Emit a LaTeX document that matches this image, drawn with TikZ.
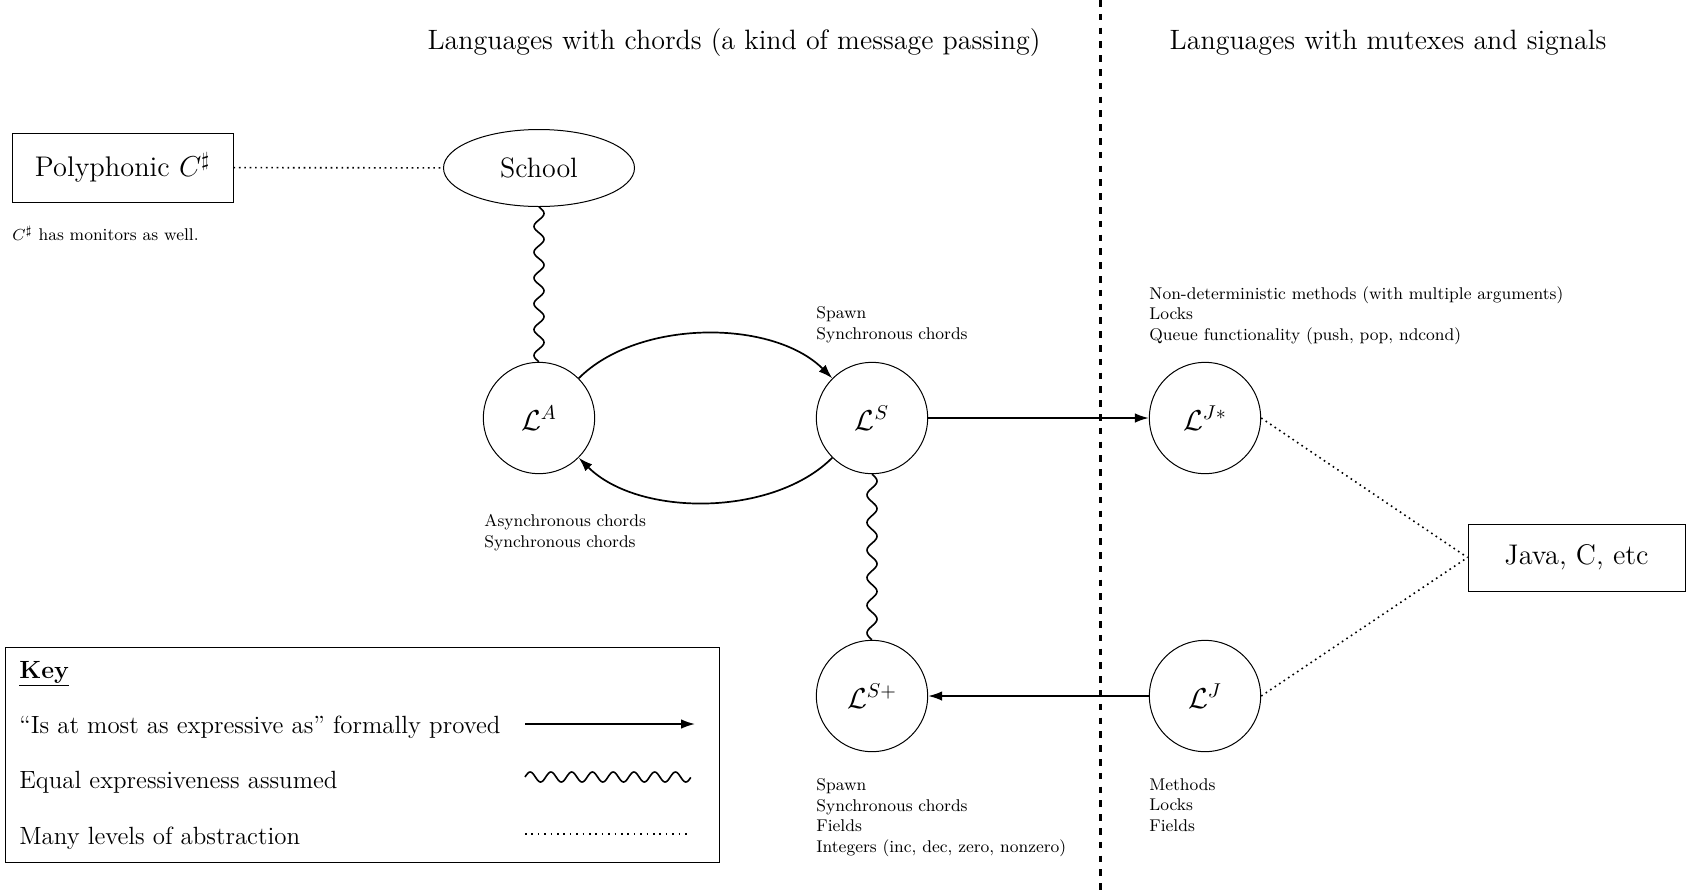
\documentclass[tikz,border=0pt]{standalone}
\usetikzlibrary{arrows.meta,calc,shapes.geometric}
\begin{document}
\begin{tikzpicture}[x=0.5pt,y=0.5pt,
  circ/.style={circle,draw,line width=0.5pt,minimum size=55.7pt,inner sep=0pt,font=\fontsize{14}{17}\selectfont},
  bigbox/.style={draw,line width=0.5pt,inner sep=0pt,font=\fontsize{14.2}{17}\selectfont},
  note/.style={align=left,anchor=north west,inner sep=0pt,font=\fontsize{8.5}{10.35}\selectfont},
  keytext/.style={anchor=west,inner sep=0pt,font=\fontsize{12.45}{15}\selectfont},
  title/.style={inner sep=0pt,font=\fontsize{14}{17}\selectfont},
  arr/.style={line width=0.85pt,-{Latex[length=7pt,width=4.8pt]}},
  wavy/.style={line width=0.8pt,line join=round},
  dots/.style={line width=0.8pt,dash pattern=on 0.8pt off 1.9pt},
  keydots/.style={line width=0.8pt,dash pattern=on 0.8pt off 2.4pt},
  divider/.style={line width=1.5pt,dash pattern=on 3.3pt off 3.6pt}]
\useasboundingbox (0,0) rectangle (1686,-890);

% titles
\node[title] (t1) at (734,-43) {Languages with chords (a kind of message passing)};
\node[title] (t2) at (1388,-43) {Languages with mutexes and signals};

% divider
\coordinate (dtop) at (1100,0);
\coordinate (dbot) at (1100,-890);
\draw[divider] (dtop) -- (dbot);

% nodes
\node[bigbox,minimum width=110.5pt,minimum height=34.5pt] (poly) at (122.5,-167.5) {Polyphonic $C^\sharp$};
\node[ellipse,draw,line width=0.5pt,minimum width=95.5pt,minimum height=38.5pt,inner sep=0pt,font=\fontsize{14}{17}\selectfont] (school) at (539,-168) {School};
\node[circ] (LA) at (539,-418) {$\mathcal{L}^A$};
\node[circ] (LS) at (872,-418) {$\mathcal{L}^S$};
\node[circ] (LJs) at (1205,-418) {$\mathcal{L}^{J*}$};
\node[circ] (LSp) at (872,-696) {$\mathcal{L}^{S+}$};
\node[circ] (LJ) at (1205,-696) {$\mathcal{L}^J$};
\node[bigbox,minimum width=108.5pt,minimum height=33.5pt] (java) at (1576.5,-557.5) {Java, C, etc};

% notes
\node[note] (npoly) at (12,-226) {$C^\sharp$ has monitors as well.};
\node[note] (nLS) at (816,-306) {Spawn\\Synchronous chords};
\node[note] (nLA) at (484,-514) {Asynchronous chords\\Synchronous chords};
\node[note] (nLJs) at (1149,-286) {Non-deterministic methods (with multiple arguments)\\Locks\\Queue functionality (push, pop, ndcond)};
\node[note] (nLSp) at (816,-778) {Spawn\\Synchronous chords\\Fields\\Integers (inc, dec, zero, nonzero)};
\node[note] (nLJ) at (1149,-778) {Methods\\Locks\\Fields};

% connectors
\draw[dots] (poly) -- (school);
\draw[wavy] let \p1=(school.south), \p2=(LA.north) in
  plot[variable=\t,domain=0:1,samples=121,smooth] ({\x1+2.5pt*sin(6*360*\t)},{\y1+(\y2-\y1)*\t});
\draw[wavy] let \p1=(LS.south), \p2=(LSp.north) in
  plot[variable=\t,domain=0:1,samples=121,smooth] ({\x1+2.5pt*sin(6*360*\t)},{\y1+(\y2-\y1)*\t});
\draw[arr] (LA) to[out=45,in=135,looseness=0.85] (LS);
\draw[arr] (LS) to[out=-135,in=-45,looseness=0.85] (LA);
\draw[arr] (LS) -- (LJs);
\draw[arr] (LJ) -- (LSp);
\draw[dots] (LJs.east) -- (java.west);
\draw[dots] (LJ.east) -- (java.west);

% key
\node[draw,line width=0.5pt,minimum width=357pt,minimum height=107.5pt,inner sep=0pt] (keybox) at (362,-754.5) {};
\node[keytext] (khead) at (19,-674) {\underline{\textbf{Key}}};
\node[keytext] (k1) at (19,-727) {``Is at most as expressive as'' formally proved};
\node[keytext] (k2) at (19,-782) {Equal expressiveness assumed};
\node[keytext] (k3) at (19,-838) {Many levels of abstraction};
\coordinate (k1a) at (525,-724); \coordinate (k1b) at (695,-724);
\coordinate (k2a) at (525,-777); \coordinate (k2b) at (691,-777);
\coordinate (k3a) at (525,-834); \coordinate (k3b) at (688,-834);
\draw[arr] (k1a) -- (k1b);
\draw[wavy] let \p1=(k2a), \p2=(k2b) in
  plot[variable=\t,domain=0:1,samples=161,smooth] ({\x1+(\x2-\x1)*\t},{\y1+2.5pt*sin(8*360*\t)});
\draw[keydots] (k3a) -- (k3b);
\end{tikzpicture}
\end{document}
